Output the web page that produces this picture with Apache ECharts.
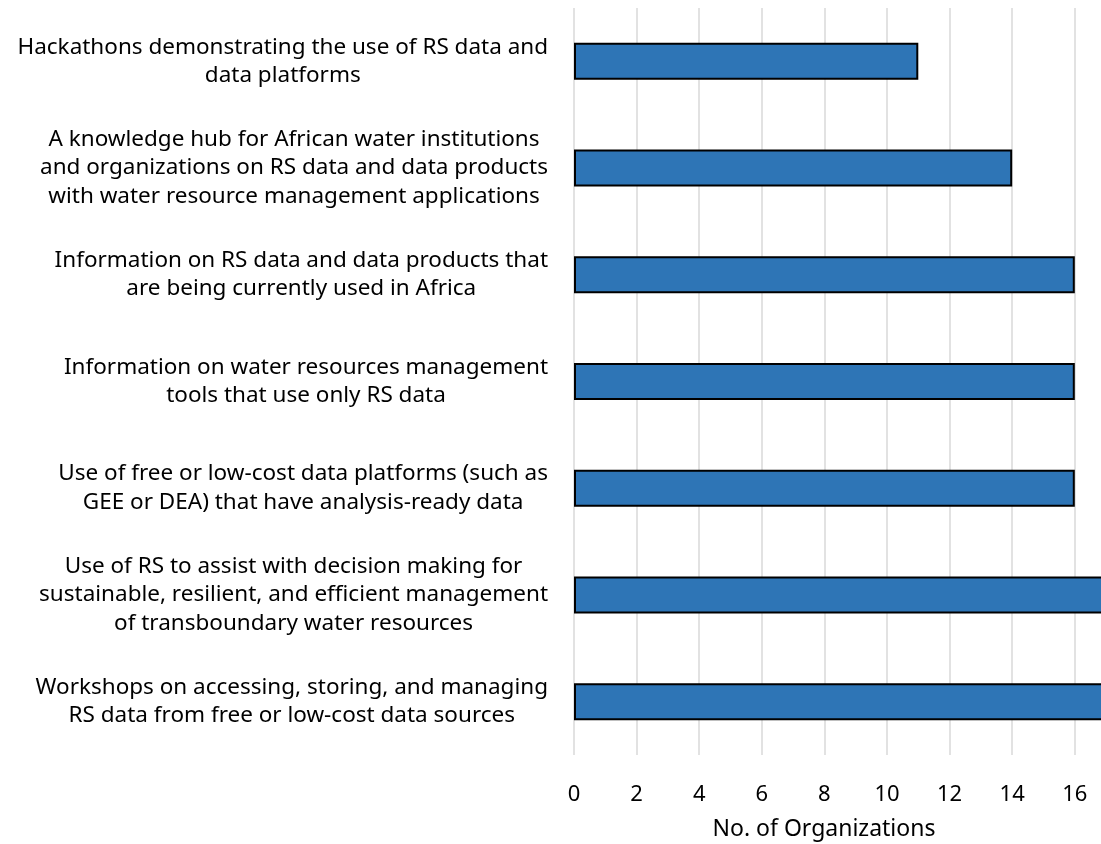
<!DOCTYPE html>
<html>
<head>
<meta charset="utf-8">
<script src="https://cdn.jsdelivr.net/npm/echarts@6/dist/echarts.min.js"></script>
<style>
  html, body { margin: 0; padding: 0; background: #fff; }
  #chart { width: 1101px; height: 844px; }
</style>
</head>
<body>
<div id="chart"></div>
<script>
  // categories top to bottom, one string per wrapped line
  const categories = [
    ['Hackathons demonstrating the use of RS data and', 'data platforms'],
    ['A knowledge hub for African water institutions', 'and organizations on RS data and data products', 'with water resource management applications'],
    ['Information on RS data and data products that', 'are being currently used in Africa'],
    ['Information on water resources management', 'tools that use only RS data'],
    ['Use of free or low-cost data platforms (such as', 'GEE or DEA) that have analysis-ready data'],
    ['Use of RS to assist with decision making for', 'sustainable, resilient, and efficient management', 'of transboundary water resources'],
    ['Workshops on accessing, storing, and managing', 'RS data from free or low-cost data sources']
  ]
  const orgCounts = [11, 14, 16, 16, 16, 17, 17]
  const xTicks = [0, 2, 4, 6, 8, 10, 12, 14, 16, 18]

  const font = '"Noto Sans", "DejaVu Sans", sans-serif'
  const chart = echarts.init(document.getElementById('chart'))

  let option = {
    animation: false,
    grid: {
      left: 574,
      top: 8,
      width: 31.3 * xTicks[xTicks.length - 1],
      height: 747,
      outerBoundsMode: 'none',
      containLabel: false
    },
    xAxis: {
      type: 'value',
      min: xTicks[0],
      max: xTicks[xTicks.length - 1],
      interval: 2,
      axisLine: { show: false },
      axisTick: { show: false },
      splitLine: { lineStyle: { color: '#d9d9d9', width: 1.5 } },
      axisLabel: {
        margin: 29,
        color: '#000',
        fontSize: 22,
        fontFamily: font
      }
    },
    yAxis: {
      type: 'category',
      inverse: true,
      data: categories.map((c, i) => i),
      axisLine: { show: false },
      axisTick: { show: false },
      axisLabel: {
        margin: 26,
        align: 'right',
        color: '#000',
        formatter: i => categories[i].map(l => '{c|' + l + '}').join('\n'),
        rich: {
          c: {
            align: 'center',
            fontSize: 22.5,
            lineHeight: 28.5,
            color: '#000',
            fontFamily: font
          }
        }
      }
    },
    graphic: [{
      type: 'text',
      x: 824,
      y: 818,
      style: {
        text: 'No. of Organizations',
        font: '23px ' + font,
        fill: '#000',
        align: 'center'
      }
    }],
    series: [{
      type: 'bar',
      data: orgCounts,
      barWidth: 37,
      itemStyle: {
        color: '#2E75B6',
        borderColor: '#000',
        borderWidth: 2
      }
    }]
  }

  chart.setOption(option)
</script>
</body>
</html>
